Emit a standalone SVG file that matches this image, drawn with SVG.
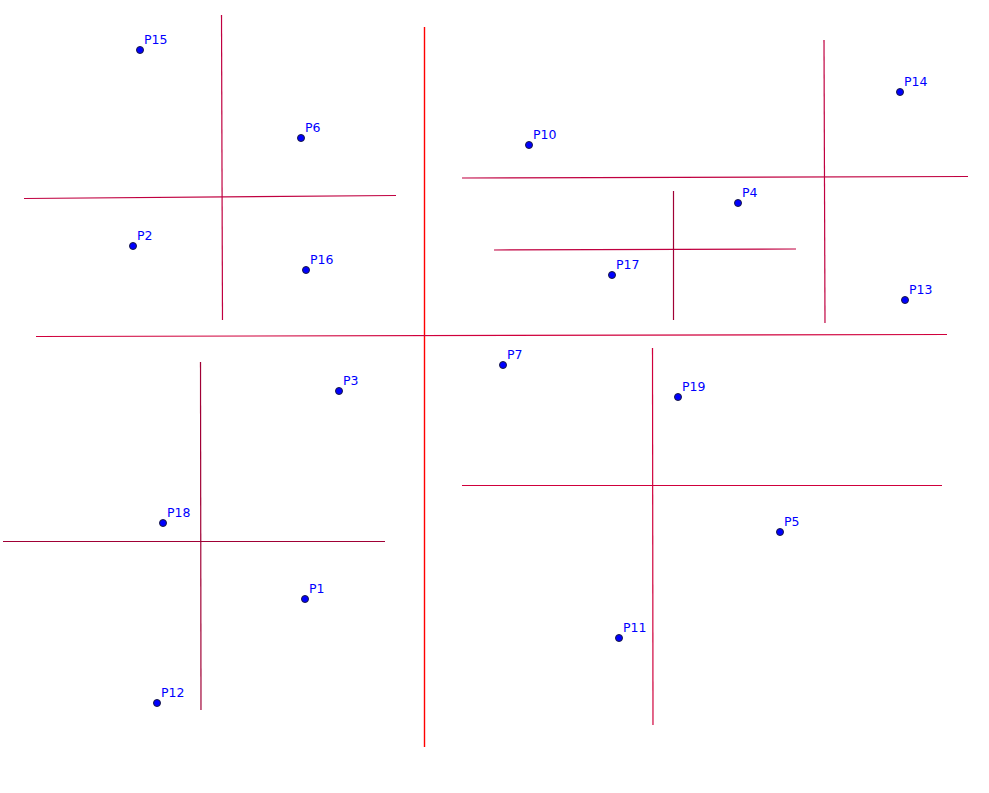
<svg xmlns="http://www.w3.org/2000/svg" width="989" height="793" viewBox="0 0 989 793">
<style>
.l{stroke-width:1.2;fill:none}
.a{stroke:#ff0000;stroke-width:1.4}
.b{stroke:#d0003c}
.c{stroke:#c00040}
.d{stroke:#a00035}
.pt{fill:#0000ff;stroke:#1a1a40;stroke-width:1}
.t{font-family:"DejaVu Sans","Liberation Sans",sans-serif;font-size:12.5px;fill:#0000ff}
</style>
<rect width="989" height="793" fill="#ffffff"/>
<g id="connectors">
<line class="l a" x1="424.5" y1="27" x2="424.5" y2="747"/>
<line class="l b" x1="36" y1="336.5" x2="947" y2="334.5"/>
<line class="l c" x1="221.5" y1="15" x2="222.5" y2="320"/>
<line class="l c" x1="24" y1="198.5" x2="396" y2="195.5"/>
<line class="l c" x1="462" y1="178" x2="968" y2="176.5"/>
<line class="l c" x1="824" y1="40" x2="825" y2="323"/>
<line class="l c" x1="494" y1="250" x2="796" y2="249"/>
<line class="l d" x1="673.5" y1="191" x2="673.5" y2="320"/>
<line class="l d" x1="200.5" y1="362" x2="201" y2="710"/>
<line class="l d" x1="3" y1="541.5" x2="385" y2="541.5"/>
<line class="l b" x1="652.5" y1="348" x2="653" y2="725"/>
<line class="l b" x1="462" y1="485.5" x2="942" y2="485.5"/>
</g>
<g id="P15"><circle class="pt" cx="140" cy="50" r="3.5"/><text class="t" x="144" y="44">P15</text></g>
<g id="P6"><circle class="pt" cx="301" cy="138" r="3.5"/><text class="t" x="305" y="132">P6</text></g>
<g id="P2"><circle class="pt" cx="133" cy="246" r="3.5"/><text class="t" x="137" y="240">P2</text></g>
<g id="P16"><circle class="pt" cx="306" cy="270" r="3.5"/><text class="t" x="310" y="264">P16</text></g>
<g id="P10"><circle class="pt" cx="529" cy="145" r="3.5"/><text class="t" x="533" y="139">P10</text></g>
<g id="P14"><circle class="pt" cx="900" cy="92" r="3.5"/><text class="t" x="904" y="86">P14</text></g>
<g id="P4"><circle class="pt" cx="738" cy="203" r="3.5"/><text class="t" x="742" y="197">P4</text></g>
<g id="P17"><circle class="pt" cx="612" cy="275" r="3.5"/><text class="t" x="616" y="269">P17</text></g>
<g id="P13"><circle class="pt" cx="905" cy="300" r="3.5"/><text class="t" x="909" y="294">P13</text></g>
<g id="P7"><circle class="pt" cx="503" cy="365" r="3.5"/><text class="t" x="507" y="359">P7</text></g>
<g id="P3"><circle class="pt" cx="339" cy="391" r="3.5"/><text class="t" x="343" y="385">P3</text></g>
<g id="P19"><circle class="pt" cx="678" cy="397" r="3.5"/><text class="t" x="682" y="391">P19</text></g>
<g id="P18"><circle class="pt" cx="163" cy="523" r="3.5"/><text class="t" x="167" y="517">P18</text></g>
<g id="P5"><circle class="pt" cx="780" cy="532" r="3.5"/><text class="t" x="784" y="526">P5</text></g>
<g id="P1"><circle class="pt" cx="305" cy="599" r="3.5"/><text class="t" x="309" y="593">P1</text></g>
<g id="P11"><circle class="pt" cx="619" cy="638" r="3.5"/><text class="t" x="623" y="632">P11</text></g>
<g id="P12"><circle class="pt" cx="157" cy="703" r="3.5"/><text class="t" x="161" y="697">P12</text></g>
</svg>
